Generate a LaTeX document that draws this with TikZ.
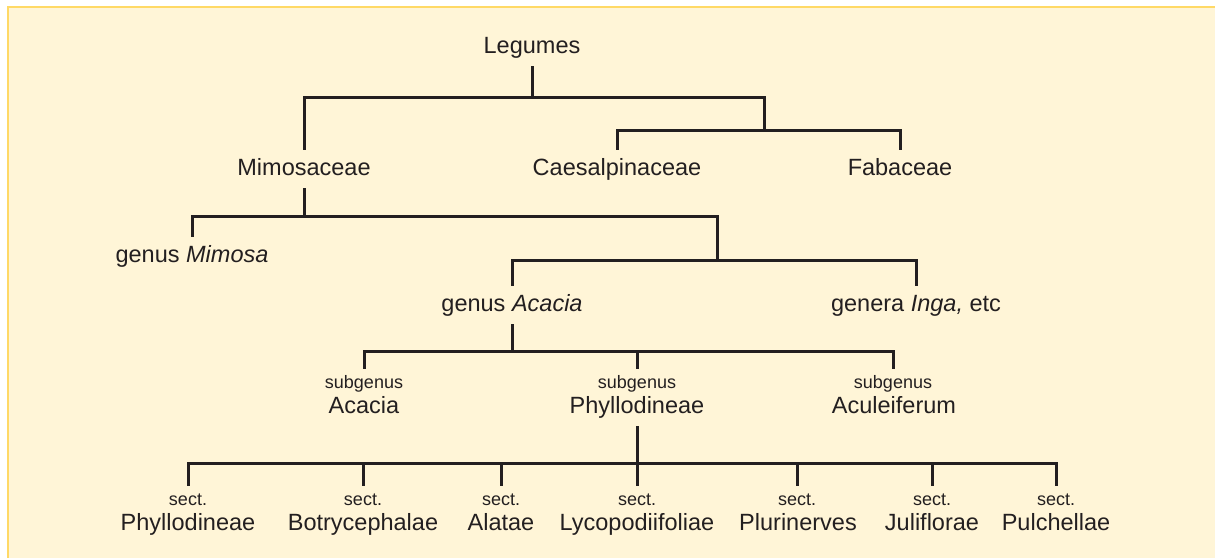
\documentclass[tikz,border=0pt]{standalone}
\usepackage{fontspec}
\setmainfont{Liberation Sans}
\definecolor{bg}{HTML}{FFF5D7}
\definecolor{bd}{HTML}{FFD966}
\definecolor{ink}{HTML}{231F20}
\begin{document}
\begin{tikzpicture}[x=1pt,y=-1pt,
  big/.style={anchor=base, font=\fontsize{23.5}{28}\selectfont, text=ink, text height=17pt, text depth=5pt, inner ysep=8pt, inner xsep=0pt},
  small/.style={anchor=base, font=\fontsize{18}{22}\selectfont, text=ink, text height=13pt, text depth=4pt, inner ysep=6pt, inner xsep=0pt},
  link/.style={draw=ink, line width=3pt}]
\useasboundingbox (0,0) rectangle (1215,557);
\clip (0,0) rectangle (1215,557);
\fill[white] (0,0) rectangle (1215,557);
\draw[fill=bg, draw=bd, line width=1.5pt] (8,7) rectangle (1240,580);

% nodes
\node[big] (leg) at (532,53) {Legumes};
\node[big] (mim) at (304,175) {Mimosaceae};
\node[big] (cae) at (617,175) {Caesalpinaceae};
\node[big] (fab) at (900,175) {Fabaceae};
\node[big] (gmi) at (192,262) {genus \textit{Mimosa}};
\node[big] (gac) at (512,311) {genus \textit{Acacia}};
\node[big] (gin) at (916,311) {genera \textit{Inga,} etc};

\node[small] (lsa) at (364,388) {subgenus};
\node[small] (lsp) at (637,388) {subgenus};
\node[small] (lsc) at (893,388) {subgenus};
\node[big] (sa) at (364,413) {Acacia};
\node[big] (sp) at (637,413) {Phyllodineae};
\node[big] (sc) at (894,413) {Aculeiferum};

\node[small] (l1) at (188,505) {sect.};
\node[small] (l2) at (363,505) {sect.};
\node[small] (l3) at (501,505) {sect.};
\node[small] (l4) at (637,505) {sect.};
\node[small] (l5) at (797,505) {sect.};
\node[small] (l6) at (932,505) {sect.};
\node[small] (l7) at (1056,505) {sect.};
\node[big] (s1) at (188,530) {Phyllodineae};
\node[big] (s2) at (363,530) {Botrycephalae};
\node[big] (s3) at (501,530) {Alatae};
\node[big] (s4) at (637,530) {Lycopodiifoliae};
\node[big] (s5) at (798,530) {Plurinerves};
\node[big] (s6) at (932,530) {Juliflorae};
\node[big] (s7) at (1056,530) {Pulchellae};

% junctions
\coordinate (j1) at (764,97);
\coordinate (j2) at (764,130);
\coordinate (j3) at (717,216);
\coordinate (j4) at (717,260);
\coordinate (j5) at (512,351);
\coordinate (j6) at (637,463);

% connectors
\draw[link] (leg.south) -- (leg.south |- j1);
\draw[link] (mim.north) |- (j1) -- (j2);
\draw[link] (cae.north) |- (j2) -| (fab.north);

\draw[link] (mim.south) -- (mim.south |- j3);
\draw[link] (gmi.north) |- (j3) -- (j4);
\draw[link] (gac.north) |- (j4) -| (gin.north);

\draw[link] (gac.south) -- (j5);
\draw[link] (lsa.north) |- (j5) -| (lsc.north);
\draw[link] (lsp.north) -- (lsp.north |- j5);

\draw[link] (sp.south) -- (l4.north);
\draw[link] (l1.north) |- (j6) -| (l7.north);
\foreach \n in {l2,l3,l5,l6} \draw[link] (\n.north) -- (\n.north |- j6);
\end{tikzpicture}
\end{document}
